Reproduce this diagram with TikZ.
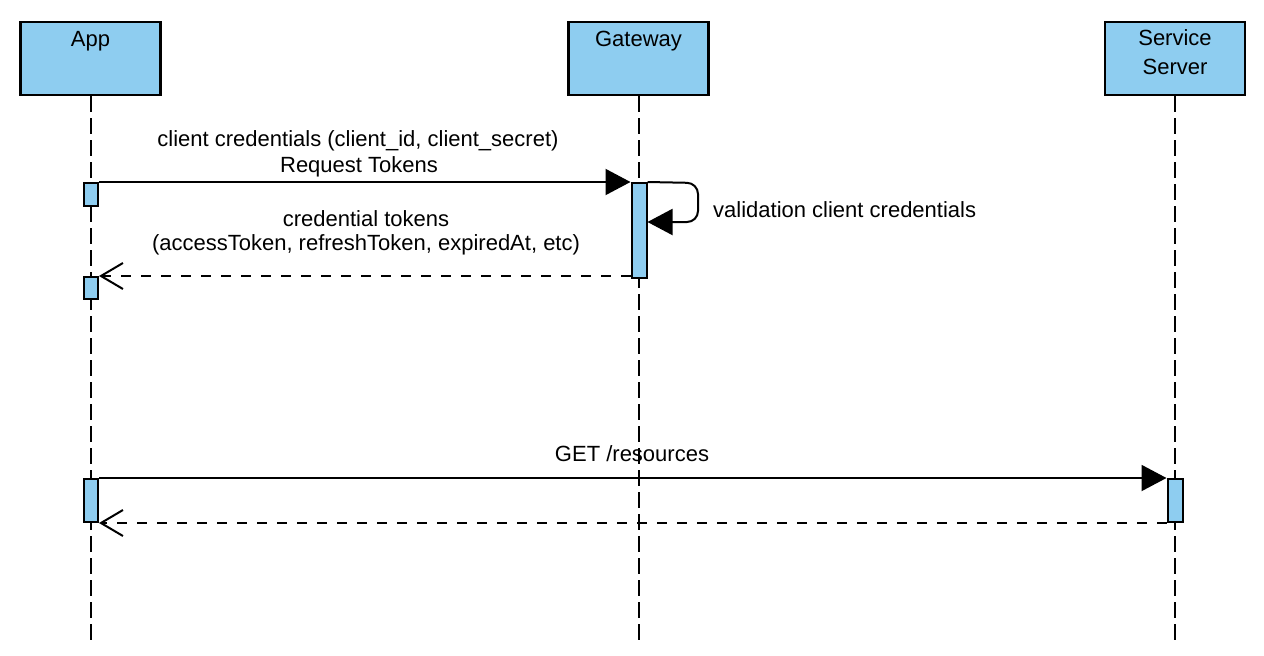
\documentclass[tikz,border=0pt]{standalone}
\usepackage{fontspec}
\setmainfont{Liberation Sans}
\usetikzlibrary{arrows.meta,positioning}
\definecolor{boxblue}{RGB}{142,205,240}
\tikzset{
  txt/.style={font=\fontsize{22}{29}\selectfont, inner sep=0pt, align=center},
  actor/.style={draw, line width=2.2pt, fill=boxblue, minimum width=140pt, minimum height=73pt, inner sep=0pt},
  act/.style={draw, line width=2pt, fill=boxblue, minimum width=14pt, inner sep=0pt},
  life/.style={line width=2pt, dash pattern=on 16pt off 6pt},
  msg/.style={line width=2pt, -{Triangle[length=25pt,width=26pt]}},
  ret/.style={line width=2pt, dash pattern=on 10pt off 10pt, -{Straight Barb[length=22pt,width=26pt,line width=2pt]}}
}
\begin{document}
\begin{tikzpicture}[x=1pt,y=-1pt]
\useasboundingbox (0,0) rectangle (1264,656);
% actors
\node[actor] (app) at (90.5,58.5) {};
\node[actor] (gw) at (638.5,58.5) {};
\node[actor] (srv) at (1175,58.5) {};
\node[txt, anchor=north] (appT) at (90.5,31) {App};
\node[txt, anchor=north] (gwT) at (638.5,31) {Gateway};
\node[txt, anchor=north] (srvT) at (1175,29) {Service\\Server};
% lifeline ends
\coordinate (appE) at (90.5,641);
\coordinate (gwE) at (638.5,641);
\coordinate (srvE) at (1175,641);
\draw[life] (app.south) -- (appE);
\draw[life] (gw.south) -- (gwE);
\draw[life] (srv.south) -- (srvE);
% activations
\node[act, minimum height=23pt] (a1) at (91,194.5) {};
\node[act, minimum height=95pt, minimum width=15pt] (g1) at (639,230.5) {};
\node[act, minimum height=22pt] (a2) at (91,288) {};
\node[act, minimum height=43pt] (a3) at (91,500.5) {};
\node[act, minimum height=43pt, minimum width=15pt] (s1) at (1175,500.5) {};
% message 1
\node[txt] (m1a) at (358,141) {client credentials (client\_id, client\_secret)};
\node[txt] (m1b) at (359,167) {Request Tokens};
\draw[msg] (a1.north east) -- (g1.north west);
% self message
\coordinate (loopA) at (698,183);
\coordinate (loopB) at (698,222);
\draw[msg, rounded corners=11pt] (g1.north east) -- (loopA) -- (loopB) -- (g1.east |- loopB);
\node[txt, anchor=west] (m2) at (713,210) {validation client credentials};
% return 1
\node[txt] (m3a) at (366,219) {credential tokens};
\node[txt] (m3b) at (366,245) {(accessToken, refreshToken, expiredAt, etc)};
\draw[ret] (g1.west |- a2.north) -- (a2.north east);
% message 3
\node[txt] (m4) at (632,454) {GET /resources};
\draw[msg] (a3.north east) -- (s1.north west);
\draw[ret] (s1.south west) -- (a3.south east);
\end{tikzpicture}
\end{document}
